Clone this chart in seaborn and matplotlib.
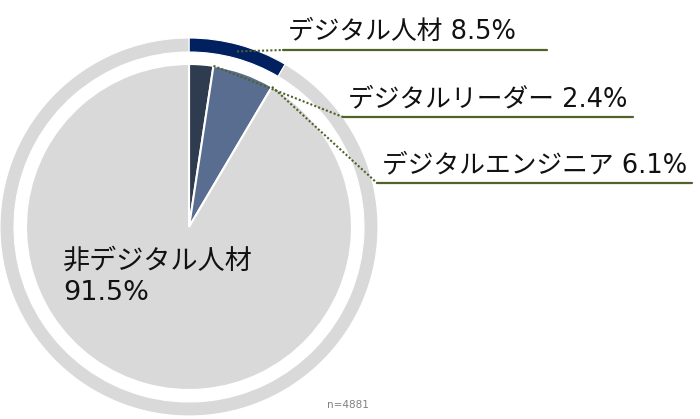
import numpy as np
import matplotlib
matplotlib.use("Agg")
import matplotlib.pyplot as plt
import seaborn as sns

# données
inner_labels = ["デジタルリーダー", "デジタルエンジニア", "非デジタル人材"]
inner_values = [2.4, 6.1, 91.5]
outer_labels = ["デジタル人材", "非デジタル人材"]
outer_values = [8.5, 91.5]
n_total = 4881

sns.set_theme(style="white")
# chiffres en DejaVu (proche de Meiryo), kana/kanji en Noto CJK
plt.rcParams['font.family'] = ['DejaVu Sans', 'Noto Sans CJK JP']

W, H = 700, 419
fig = plt.figure(figsize=(7, 4.19), dpi=100)
ax = fig.add_axes([0, 0, 1, 1])

# position du camembert (pixels, y vers le haut)
cx, cy = 189, H - 227
r_in = 163
r_out, ring_w = 189, 14

inner_colors = ["#2F3B4F", "#586D8F", "#D9D9D9"]
outer_colors = ["#002060", "#D9D9D9"]
green = "#4F6228"

ax.pie(inner_values, radius=r_in, center=(cx, cy), startangle=90,
       counterclock=False, colors=inner_colors,
       wedgeprops=dict(edgecolor="white", linewidth=1.5))
ax.pie(outer_values, radius=r_out, center=(cx, cy), startangle=90,
       counterclock=False, colors=outer_colors,
       wedgeprops=dict(width=ring_w, edgecolor="white", linewidth=0.8))

ax.set_xlim(0, W)
ax.set_ylim(0, H)
ax.set_aspect("equal")
ax.axis("off")


# point sur le cercle (angle compté depuis le haut, sens horaire)
def point(pct_angle, r):
    a = np.deg2rad(90 - pct_angle * 3.6)
    return cx + r * np.cos(a), cy + r * np.sin(a)


fs = 18.5
cum = np.cumsum(inner_values)

# étiquettes avec lignes de rappel
anchors = [
    point(outer_values[0] / 2, r_out - ring_w / 2),
    point(cum[0], r_in),
    point(cum[1], r_in),
]
texts = [
    f"{outer_labels[0]} {outer_values[0]}%",
    f"{inner_labels[0]} {inner_values[0]}%",
    f"{inner_labels[1]} {inner_values[1]}%",
]
line_y = [50, 117, 183]
line_x = [(283, 547), (343, 633), (377, 692)]

for (ax0, ay0), txt, ly, (x0, x1) in zip(anchors, texts, line_y, line_x):
    yy = H - ly
    ax.plot([ax0, x0], [ay0, yy], color=green, lw=1.5, linestyle=(0, (1, 1)))
    ax.plot([x0, x1], [yy, yy], color=green, lw=1.6)
    ax.text(x0 + 5, yy + 5, txt, fontsize=fs, color="#111111",
            ha="left", va="bottom")

ax.text(63, H - 249, f"{inner_labels[2]}\n{inner_values[2]}%", fontsize=19.5,
        color="#111111", ha="left", va="top", linespacing=1.25)
ax.text(327, H - 405, f"n={n_total}", fontsize=7.5, color="#808080",
        ha="left", va="center")

fig.savefig("out.png", dpi=100)
